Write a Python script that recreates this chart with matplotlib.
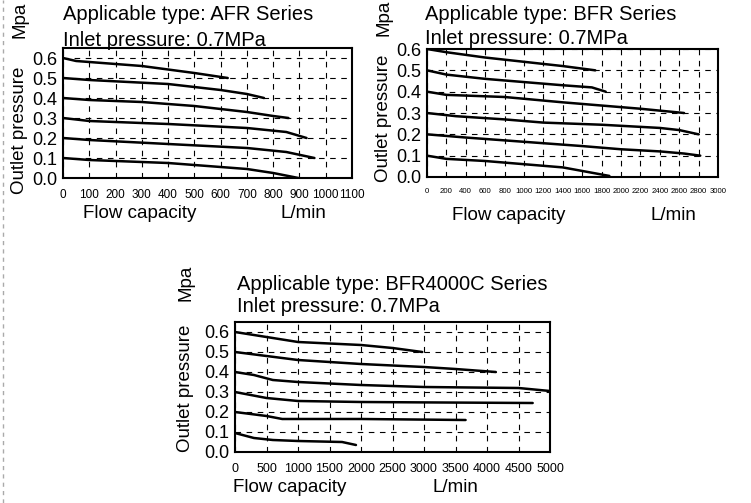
import matplotlib
matplotlib.use("Agg")
import matplotlib.pyplot as plt

plt.rcParams['font.family'] = ['Liberation Sans', 'DejaVu Sans']

# --- AFR series (flow L/min, outlet pressure MPa) ---
afr_x = [
    [0, 50, 100, 300, 500, 627],
    [0, 100, 400, 600, 700, 765],
    [0, 100, 300, 500, 700, 800, 858],
    [0, 100, 400, 700, 850, 927],
    [0, 100, 400, 700, 850, 957],
    [0, 100, 400, 700, 800, 896],
]
afr_y = [
    [0.60, 0.585, 0.58, 0.56, 0.525, 0.50],
    [0.50, 0.49, 0.47, 0.44, 0.42, 0.40],
    [0.40, 0.39, 0.38, 0.36, 0.33, 0.31, 0.30],
    [0.30, 0.285, 0.27, 0.25, 0.23, 0.20],
    [0.20, 0.19, 0.17, 0.15, 0.13, 0.10],
    [0.10, 0.09, 0.075, 0.045, 0.025, 0.0],
]
afr_ticks = list(range(0, 1101, 100))

# --- BFR series ---
bfr_x = [
    [0, 200, 600, 1000, 1400, 1735],
    [0, 200, 600, 1000, 1400, 1700, 1842],
    [0, 200, 800, 1400, 1800, 2200, 2650],
    [0, 300, 800, 1200, 1800, 2400, 2600, 2800],
    [0, 400, 1000, 1600, 2000, 2400, 2650, 2817],
    [0, 200, 600, 1000, 1400, 1700, 1880],
]
bfr_y = [
    [0.60, 0.585, 0.56, 0.54, 0.52, 0.50],
    [0.50, 0.48, 0.46, 0.445, 0.43, 0.42, 0.40],
    [0.40, 0.385, 0.375, 0.35, 0.335, 0.32, 0.30],
    [0.30, 0.285, 0.27, 0.255, 0.245, 0.23, 0.22, 0.20],
    [0.20, 0.185, 0.165, 0.145, 0.13, 0.12, 0.11, 0.10],
    [0.10, 0.085, 0.075, 0.06, 0.045, 0.02, 0.005],
]
bfr_ticks = list(range(0, 3001, 200))

# --- BFR4000C series ---
c_x = [
    [0, 500, 1000, 2000, 2500, 2972],
    [0, 500, 1000, 2000, 3000, 3500, 4140],
    [0, 300, 600, 1000, 2000, 3000, 4500, 5000],
    [0, 500, 1000, 2000, 3000, 4725],
    [0, 500, 750, 2000, 3660],
    [0, 300, 600, 1000, 1700, 1920],
]
c_y = [
    [0.60, 0.575, 0.55, 0.535, 0.52, 0.50],
    [0.50, 0.48, 0.46, 0.44, 0.425, 0.415, 0.40],
    [0.40, 0.385, 0.36, 0.35, 0.335, 0.325, 0.32, 0.305],
    [0.30, 0.27, 0.255, 0.25, 0.248, 0.245],
    [0.20, 0.18, 0.165, 0.165, 0.16],
    [0.095, 0.07, 0.06, 0.055, 0.05, 0.035],
]
c_ticks = list(range(0, 5001, 500))

y_ticks = [0.0, 0.1, 0.2, 0.3, 0.4, 0.5, 0.6]

W, H = 751, 503
fig = plt.figure(figsize=(W / 100, H / 100), dpi=100)


def box(l, t, r, b):
    return [l / W, 1 - b / H, (r - l) / W, (b - t) / H]


def txt(x, y, s, **kw):
    fig.text(x / W, 1 - y / H, s, **kw)


def panel(rect, xs, ys, ticks, xlim, ytop, tick_size, title, pos):
    ax = fig.add_axes(box(*rect))
    for x, y in zip(xs, ys):
        ax.plot(x, y, color='black', lw=1.8, solid_capstyle='round')
    ax.set_xlim(*xlim)
    ax.set_ylim(0, ytop)
    ax.set_xticks(ticks)
    ax.set_xticklabels([str(t) for t in ticks], fontsize=tick_size)
    ax.set_yticks(y_ticks)
    ax.set_yticklabels([f"{v:.1f}" for v in y_ticks], fontsize=13)
    ax.tick_params(axis='y', length=0, pad=4)
    ax.tick_params(axis='x', length=0, pad=8)
    ax.grid(True, color='black', lw=0.8, linestyle=(0, (5, 5)))
    for s in ax.spines.values():
        s.set_linewidth(1.5)
    tx, t1, t2, ly, fx, lx, yx, my, oy = pos
    txt(tx, t1, "Applicable type: " + title, fontsize=14.5, va='center')
    txt(tx, t2, "Inlet pressure: 0.7MPa", fontsize=14.5, va='center')
    txt(yx, my, "Mpa", fontsize=13.5, rotation=90, ha='center', va='center')
    txt(yx, oy, "Outlet pressure", fontsize=13.5, rotation=90, ha='center', va='center')
    txt(fx, ly, "Flow capacity", fontsize=13.5, va='center')
    txt(lx, ly, "L/min", fontsize=13.5, va='center')
    return ax


panel((63, 48, 352, 178), afr_x, afr_y, afr_ticks, (0, 1100), 0.65, 8.5,
      "AFR Series", (63, 15, 40, 214, 83, 280, 20, 20, 130))
panel((427, 49, 718, 177), bfr_x, bfr_y, bfr_ticks, (0, 2930), 0.6, 5.6,
      "BFR Series", (425, 14, 39, 216, 452, 650, 384, 18, 118))
panel((235, 322, 550, 452), c_x, c_y, c_ticks, (0, 5000), 0.65, 9,
      "BFR4000C Series", (237, 284, 307, 487, 233, 432, 186, 283, 388))

# page border on the left
fig.add_artist(plt.Line2D([3 / W, 3 / W], [0, 1], color='#aaaaaa', lw=1,
                          linestyle=(0, (3, 3))))

fig.savefig("out.png", dpi=100)
